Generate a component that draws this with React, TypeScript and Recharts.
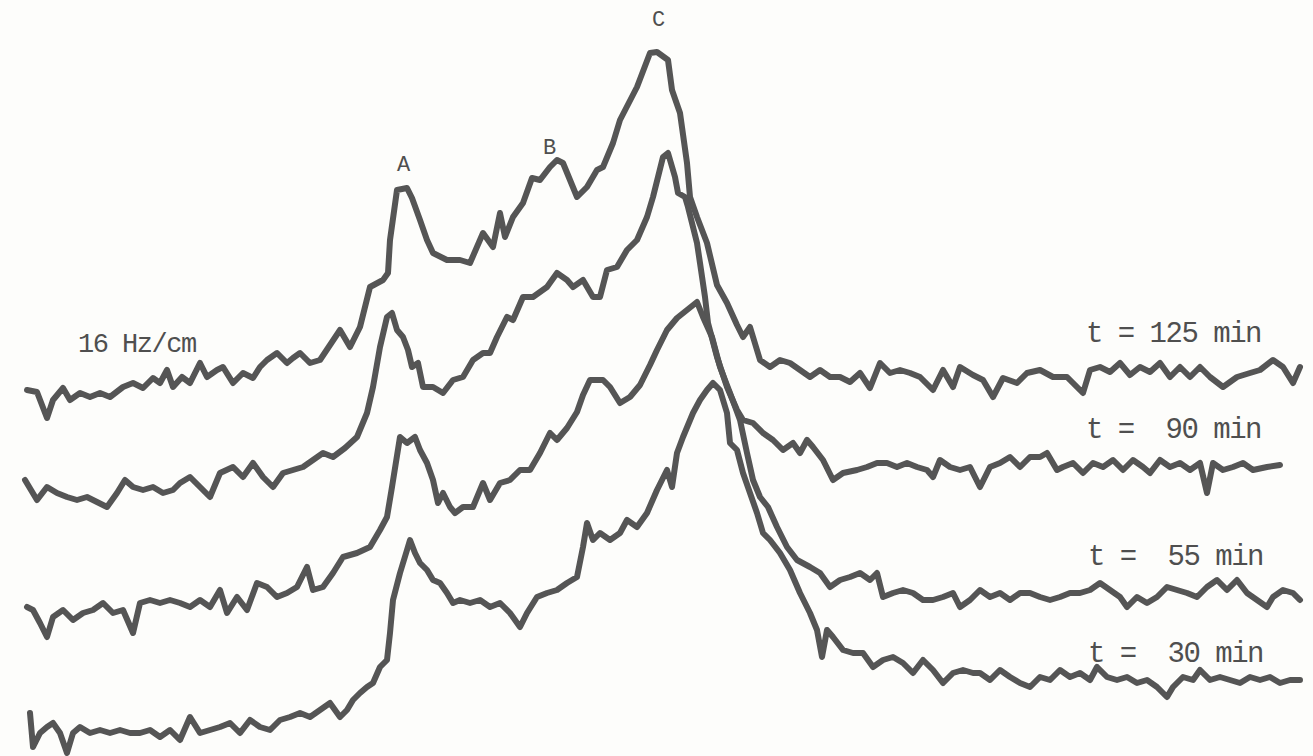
import React from 'react';
import { LineChart, Line, XAxis, YAxis } from 'recharts';

// pen readings off the chart paper: [frequency position, pen deflection from top]
const trace125: [number, number][] = [
  [27, 390], [37, 392], [47, 418], [53, 400], [63, 388], [70, 400], [80, 393], [90, 397], [100, 393], [110, 397],
  [123, 387], [133, 383], [143, 388], [153, 378], [160, 383], [167, 370], [173, 387], [182, 377], [190, 383], [200, 363],
  [207, 377], [217, 370], [223, 367], [233, 383], [243, 373], [253, 378], [260, 367], [267, 360], [277, 353], [287, 363],
  [293, 358], [300, 353], [310, 363], [320, 360], [330, 345], [340, 330], [350, 347], [360, 327], [370, 287], [383, 280],
  [388, 273], [390, 240], [397, 190], [407, 188], [412, 198], [420, 220], [427, 240], [433, 253], [447, 260], [460, 260],
  [470, 263], [483, 233], [493, 247], [500, 213], [505, 237], [513, 217], [523, 203], [532, 178], [540, 180], [550, 167],
  [557, 160], [563, 163], [577, 197], [587, 187], [597, 170], [603, 167], [613, 143], [620, 120], [637, 87], [650, 53],
  [657, 52], [668, 60], [672, 90], [680, 113], [687, 163], [690, 197], [697, 217], [707, 243], [717, 285], [727, 303],
  [737, 325], [743, 337], [750, 327], [760, 360], [770, 367], [780, 360], [790, 363], [800, 370], [810, 377], [820, 370],
  [830, 377], [840, 377], [850, 382], [860, 373], [870, 388], [880, 363], [890, 373], [900, 370], [910, 373], [920, 377],
  [933, 390], [943, 370], [953, 387], [960, 367], [973, 375], [983, 380], [993, 397], [1003, 378], [1017, 383], [1027, 373],
  [1040, 370], [1053, 377], [1067, 377], [1077, 387], [1083, 393], [1090, 370], [1100, 367], [1110, 372], [1120, 363], [1130, 375],
  [1140, 367], [1150, 372], [1160, 363], [1170, 377], [1180, 367], [1190, 377], [1200, 367], [1210, 377], [1223, 387], [1237, 377],
  [1250, 373], [1260, 370], [1273, 360], [1283, 367], [1293, 383], [1300, 367],
];

const trace90: [number, number][] = [
  [25, 480], [37, 500], [47, 487], [57, 493], [67, 497], [77, 500], [87, 497], [97, 502], [107, 507], [117, 493],
  [125, 480], [133, 487], [143, 490], [153, 487], [163, 493], [173, 490], [180, 483], [190, 477], [200, 487], [210, 497],
  [220, 473], [233, 467], [243, 477], [253, 463], [263, 477], [273, 487], [283, 473], [293, 470], [303, 467], [313, 460],
  [323, 453], [333, 457], [345, 448], [357, 437], [367, 413], [373, 387], [380, 347], [387, 317], [392, 313], [397, 330],
  [403, 337], [408, 350], [412, 367], [418, 363], [423, 387], [433, 387], [443, 393], [453, 380], [463, 377], [473, 360],
  [483, 353], [490, 353], [497, 337], [507, 317], [513, 320], [523, 297], [533, 297], [547, 287], [557, 273], [567, 280],
  [573, 287], [583, 280], [593, 297], [600, 297], [607, 270], [617, 267], [627, 250], [637, 240], [647, 217], [653, 197],
  [663, 157], [668, 153], [675, 177], [678, 193], [685, 197], [688, 207], [692, 223], [697, 243], [700, 263], [705, 297],
  [708, 323], [717, 357], [727, 387], [737, 410], [743, 420], [753, 423], [763, 433], [773, 440], [783, 450], [793, 443],
  [800, 453], [807, 440], [813, 447], [823, 460], [833, 480], [843, 473], [857, 470], [867, 467], [877, 463], [887, 463],
  [897, 467], [907, 463], [917, 467], [927, 470], [933, 477], [940, 460], [950, 467], [960, 470], [970, 467], [980, 487],
  [990, 467], [1000, 463], [1010, 457], [1020, 467], [1030, 457], [1040, 457], [1047, 453], [1057, 470], [1063, 467], [1073, 463],
  [1083, 473], [1093, 463], [1103, 467], [1113, 460], [1123, 470], [1133, 460], [1143, 467], [1150, 473], [1160, 460], [1170, 467],
  [1180, 463], [1190, 470], [1200, 463], [1207, 493], [1213, 463], [1223, 470], [1233, 467], [1243, 463], [1253, 470], [1267, 467],
  [1280, 465],
];

const trace55: [number, number][] = [
  [27, 607], [33, 610], [40, 623], [47, 637], [53, 617], [63, 610], [73, 620], [83, 613], [93, 610], [103, 603],
  [113, 613], [123, 610], [133, 633], [140, 603], [150, 600], [160, 603], [170, 600], [180, 603], [190, 607], [200, 600],
  [210, 607], [220, 590], [227, 613], [237, 597], [247, 610], [257, 583], [267, 587], [277, 597], [287, 593], [297, 587],
  [307, 567], [313, 590], [323, 587], [333, 573], [343, 557], [357, 553], [370, 547], [380, 530], [387, 517], [392, 487],
  [400, 437], [407, 443], [415, 437], [420, 450], [427, 463], [433, 480], [438, 503], [443, 493], [450, 507], [455, 513],
  [463, 507], [473, 507], [483, 483], [490, 500], [500, 483], [510, 480], [520, 470], [530, 470], [540, 453], [550, 433],
  [557, 440], [567, 428], [577, 412], [583, 395], [590, 380], [603, 380], [610, 387], [620, 403], [630, 397], [640, 385],
  [650, 365], [657, 350], [667, 330], [677, 318], [687, 310], [697, 302], [703, 317], [712, 337], [720, 367], [730, 393],
  [740, 420], [747, 453], [753, 480], [760, 497], [768, 507], [777, 527], [787, 547], [797, 560], [810, 567], [820, 573],
  [830, 587], [840, 580], [850, 577], [860, 573], [870, 580], [877, 573], [883, 597], [893, 593], [903, 590], [913, 593],
  [923, 600], [933, 600], [943, 597], [953, 593], [960, 607], [970, 600], [980, 590], [990, 597], [1000, 593], [1010, 600],
  [1020, 593], [1030, 593], [1040, 597], [1050, 600], [1060, 597], [1070, 593], [1080, 593], [1090, 590], [1100, 583], [1110, 590],
  [1120, 597], [1127, 607], [1137, 597], [1147, 603], [1157, 597], [1167, 587], [1177, 590], [1187, 593], [1197, 597], [1207, 587],
  [1217, 580], [1227, 590], [1237, 580], [1247, 593], [1257, 600], [1267, 607], [1273, 597], [1283, 590], [1293, 593], [1300, 600],
];

const trace30: [number, number][] = [
  [30, 713], [33, 747], [40, 733], [47, 727], [53, 723], [60, 733], [67, 753], [73, 733], [80, 727], [90, 733],
  [100, 730], [110, 733], [120, 730], [130, 733], [140, 733], [150, 730], [160, 737], [170, 730], [180, 740], [190, 717],
  [200, 733], [210, 730], [220, 727], [230, 723], [240, 733], [250, 720], [260, 727], [270, 730], [280, 720], [290, 717],
  [300, 713], [310, 717], [320, 710], [330, 703], [340, 717], [347, 710], [353, 700], [360, 693], [367, 687], [373, 683],
  [380, 667], [387, 660], [390, 633], [393, 600], [400, 573], [407, 550], [410, 540], [415, 553], [420, 563], [427, 570],
  [433, 580], [440, 583], [447, 593], [453, 603], [460, 600], [470, 603], [480, 600], [490, 607], [500, 603], [510, 613],
  [520, 627], [527, 613], [537, 597], [547, 593], [557, 590], [567, 583], [577, 577], [583, 547], [587, 523], [593, 540],
  [600, 533], [610, 540], [620, 533], [627, 520], [637, 527], [647, 513], [657, 490], [667, 470], [672, 487], [677, 453],
  [683, 437], [693, 413], [700, 400], [707, 390], [713, 383], [720, 390], [727, 413], [730, 443], [737, 450], [743, 473],
  [750, 493], [757, 513], [763, 533], [770, 540], [780, 553], [790, 570], [800, 593], [810, 613], [817, 630], [822, 657],
  [827, 630], [833, 637], [843, 650], [853, 653], [863, 653], [873, 667], [883, 660], [893, 657], [903, 663], [913, 673],
  [923, 660], [933, 670], [943, 683], [953, 673], [963, 670], [973, 673], [980, 673], [990, 680], [1000, 670], [1010, 677],
  [1020, 683], [1030, 687], [1040, 677], [1050, 680], [1060, 670], [1070, 677], [1080, 673], [1090, 680], [1097, 667], [1107, 677],
  [1117, 680], [1127, 677], [1137, 683], [1147, 680], [1157, 687], [1167, 697], [1173, 687], [1183, 677], [1193, 680], [1200, 670],
  [1210, 680], [1220, 677], [1230, 680], [1240, 683], [1250, 677], [1260, 680], [1270, 677], [1280, 683], [1290, 680], [1300, 680],
];

const traceLabels = ['t = 125 min', 't =  90 min', 't =  55 min', 't =  30 min'];
const peakLabels = ['A', 'B', 'C'];
const scaleLabel = '16 Hz/cm';

const W = 1313;
const H = 756;
const INK = '#555555';
const mono = '"Liberation Mono", "DejaVu Sans Mono", monospace';

const toPts = (arr: [number, number][]) => arr.map(([x, y]) => ({ x, y }));

const traces = [trace125, trace90, trace55, trace30];

// text placement on the page
const traceLabelPos = [
  { left: 1086, top: 318 },
  { left: 1086, top: 414 },
  { left: 1088, top: 541 },
  { left: 1088, top: 638 },
];
const peakLabelPos = [
  { left: 397, top: 152 },
  { left: 543, top: 135 },
  { left: 652, top: 7 },
];

export default function App() {
  return (
    <div style={{ position: 'absolute', left: 0, top: 0, width: W, height: H, background: '#fdfdfb', overflow: 'hidden' }}>
      <LineChart width={W} height={H} margin={{ top: 0, right: 0, bottom: 0, left: 0 }}>
        <XAxis type="number" dataKey="x" domain={[0, W]} hide allowDataOverflow />
        <YAxis type="number" dataKey="y" domain={[0, H]} reversed hide allowDataOverflow />
        {traces.map((t, i) => (
          <Line
            key={i}
            data={toPts(t)}
            dataKey="y"
            type="linear"
            stroke={INK}
            strokeWidth={6}
            strokeLinejoin="round"
            strokeLinecap="round"
            dot={false}
            activeDot={false}
            isAnimationActive={false}
          />
        ))}
      </LineChart>

      <div style={{ position: 'absolute', left: 78, top: 330, fontFamily: mono, fontSize: 27, letterSpacing: -1.5, color: '#4f4f4f', whiteSpace: 'pre' }}>
        {scaleLabel}
      </div>
      {traceLabels.map((s, i) => (
        <div key={s} style={{ position: 'absolute', ...traceLabelPos[i], fontFamily: mono, fontSize: 29, letterSpacing: -1.5, color: '#4f4f4f', whiteSpace: 'pre', lineHeight: '34px' }}>
          {s}
        </div>
      ))}
      {peakLabels.map((s, i) => (
        <div key={s} style={{ position: 'absolute', ...peakLabelPos[i], fontFamily: mono, fontSize: 22, color: '#4f4f4f', lineHeight: '28px' }}>
          {s}
        </div>
      ))}
    </div>
  );
}
